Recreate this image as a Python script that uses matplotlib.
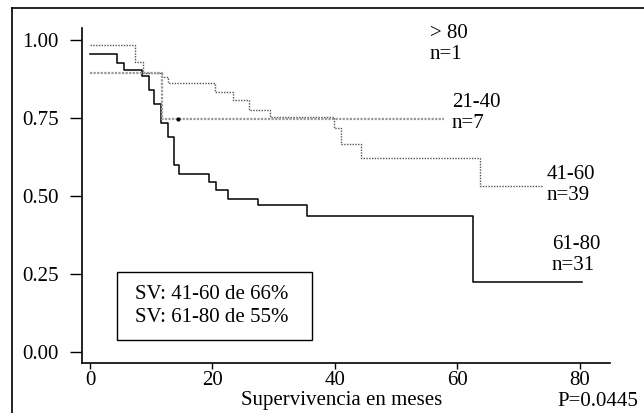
import numpy as np
import matplotlib
matplotlib.use("Agg")
import matplotlib.pyplot as plt
from matplotlib.lines import Line2D
from matplotlib.patches import Rectangle

plt.rcParams['font.family'] = ['Liberation Serif', 'DejaVu Serif']

# Kaplan-Meier steps (months, survival)
t_61_80 = [0, 4.4, 5.6, 8.5, 9.6, 10.5, 11.6, 12.7, 13.7, 14.6, 19.4, 20.5, 22.5, 27.5, 35.5, 62.6, 80.4]
s_61_80 = [0.955, 0.925, 0.905, 0.885, 0.84, 0.795, 0.735, 0.69, 0.60, 0.57, 0.545, 0.52, 0.49, 0.47, 0.435, 0.225, 0.225]

t_41_60 = [0, 7.3, 8.6, 11.7, 12.8, 20.4, 23.4, 26.0, 29.4, 39.8, 41.0, 44.2, 63.6, 74.0]
s_41_60 = [0.984, 0.929, 0.894, 0.881, 0.862, 0.834, 0.807, 0.776, 0.752, 0.719, 0.668, 0.623, 0.532, 0.532]

t_21_40 = [0, 11.7, 57.8]
s_21_40 = [0.894, 0.745, 0.745]
cens_21_40 = [14.3]

labels = ["> 80\nn=1", "21-40\nn=7", "41-60\nn=39", "61-80\nn=31"]
label_pos = [(55.5, 1.05), (59.1, 0.83), (74.6, 0.60), (75.4, 0.374)]

xticks = [0, 20, 40, 60, 80]
yticks = [0.0, 0.25, 0.50, 0.75, 1.00]

FS = 15

fig = plt.figure(figsize=(6.44, 4.13), dpi=100)
ax = fig.add_axes([82/644, 1 - 363/413, 528/644, 335/413])

ax.step(t_61_80, s_61_80, where='post', color='black', lw=1.1)
ax.step(t_41_60, s_41_60, where='post', color='#555555', lw=1.0, ls=(0, (1, 1)))
ax.step(t_21_40, s_21_40, where='post', color='#9a9a9a', lw=1.6, ls=(0, (1, 0.6)))
ax.plot(cens_21_40, [s_21_40[1]], 'o', color='black', ms=2)

for lab, (x, y) in zip(labels, label_pos):
    ax.text(x, y, lab, fontsize=FS, va='top', ha='left', linespacing=1.15)

# text box
ax.add_patch(Rectangle((0.0663, 0.0687), 0.3693, 0.2029, transform=ax.transAxes,
                       fc='white', ec='black', lw=1.0))
ax.text(0.100, 0.170, "SV: 41-60 de 66%\nSV: 61-80 de 55%", transform=ax.transAxes,
        fontsize=FS, va='center', ha='left', linespacing=1.25)

ax.set_xlim(-1.3, 84.9)
ax.set_ylim(-0.035, 1.038)
ax.set_xticks(xticks)
ax.set_xticklabels([str(v) for v in xticks])
ax.set_yticks(yticks)
ax.set_yticklabels(["%.2f" % v for v in yticks])
ax.tick_params(axis='y', length=9, width=1.0, pad=8, labelsize=FS)
ax.tick_params(axis='x', length=4, width=1.0, pad=2, labelsize=FS)
for s in ['top', 'right']:
    ax.spines[s].set_visible(False)
for s in ['left', 'bottom']:
    ax.spines[s].set_linewidth(1.2)

fig.text(342/644, 1 - 401/413, "Supervivencia en meses", fontsize=FS, ha='center', va='center')
fig.text(638/644, 1 - 401/413, "P=0.0445", fontsize=FS, ha='right', va='center')

# outer frame (left and top edges of the original scan)
fig.add_artist(Line2D([12/644, 12/644], [0, 1 - 8/413], transform=fig.transFigure, color='black', lw=1.2))
fig.add_artist(Line2D([12/644, 1], [1 - 8/413, 1 - 8/413], transform=fig.transFigure, color='black', lw=1.2))

fig.savefig("out.png", dpi=100)
